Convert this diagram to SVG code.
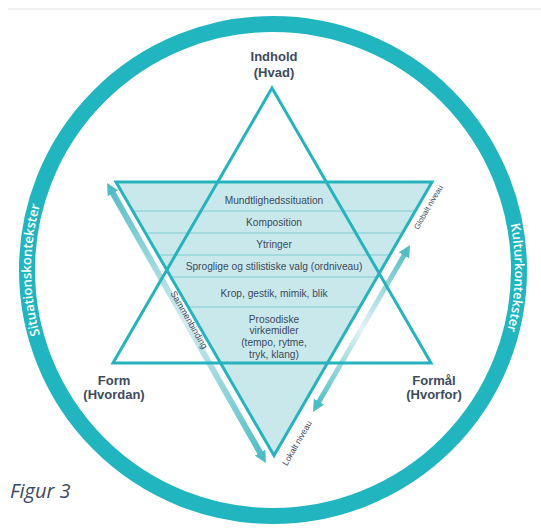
<svg xmlns="http://www.w3.org/2000/svg" width="541" height="528" viewBox="0 0 541 528">
<defs>
<style>
.lvl{font-family:"Liberation Sans",Arial,sans-serif;font-size:10.2px;fill:#3b4a5d;text-anchor:middle}
.lab{font-family:"Liberation Sans",Arial,sans-serif;font-size:13px;font-weight:bold;fill:#3d4b5c;text-anchor:middle}
.ring{font-family:"Open Sans","Liberation Sans",sans-serif;font-size:13px;font-weight:600;fill:#ffffff;text-anchor:middle}
.arr{font-family:"Liberation Sans",Arial,sans-serif;fill:#3b4a5d;text-anchor:middle}
.div{stroke:#7fcbd1;stroke-width:1}
.tri{fill:none;stroke:#27b3bd;stroke-width:3;stroke-linejoin:miter}
</style>
<marker id="head" viewBox="0 0 12 12" markerWidth="12" markerHeight="12" refX="6" refY="6" orient="auto-start-reverse" markerUnits="userSpaceOnUse">
<path d="M0,0 L12,6 L0,12 z" fill="#4dbcc4"/>
</marker>
<linearGradient id="gL" gradientUnits="userSpaceOnUse" x1="110" y1="188" x2="263" y2="458">
<stop offset="0" stop-color="#55bec6"/>
<stop offset="0.5" stop-color="#d3ecef"/>
<stop offset="1" stop-color="#4dbcc4"/>
</linearGradient>
<linearGradient id="gR" gradientUnits="userSpaceOnUse" x1="407" y1="250" x2="316" y2="407">
<stop offset="0" stop-color="#55bec6"/>
<stop offset="0.5" stop-color="#e2f3f5"/>
<stop offset="1" stop-color="#4dbcc4"/>
</linearGradient>
<path id="arcL" d="M273,512 A242,242 0 0 1 273,28"/>
<path id="arcR" d="M273,28 A242,242 0 0 1 273,512"/>
</defs>
<rect width="541" height="528" fill="#ffffff"/>
<line x1="8" y1="9" x2="541" y2="9" stroke="#ececec" stroke-width="1.5"/>

<g id="ring">
<circle cx="273" cy="270" r="246" fill="none" stroke="#21b5c0" stroke-width="16"/>
<text class="ring"><textPath href="#arcL" startOffset="50%">Situationskontekster</textPath></text>
<text class="ring"><textPath href="#arcR" startOffset="51%">Kulturkontekster</textPath></text>
</g>

<g id="levels">
<polygon points="116,182 432,182 274,455.6" fill="#c9e8ec"/>
<line class="div" x1="132.7" y1="211" x2="415.3" y2="211"/>
<line class="div" x1="145.5" y1="233" x2="402.5" y2="233"/>
<line class="div" x1="158.2" y1="255" x2="389.8" y2="255"/>
<line class="div" x1="170.9" y1="277" x2="377.1" y2="277"/>
<line class="div" x1="188.2" y1="307" x2="359.8" y2="307"/>
<text class="lvl" x="274" y="203.5">Mundtlighedssituation</text>
<text class="lvl" x="274" y="226">Komposition</text>
<text class="lvl" x="274" y="247.5">Ytringer</text>
<text class="lvl" x="274" y="270">Sproglige og stilistiske valg (ordniveau)</text>
<text class="lvl" x="274" y="296.5">Krop, gestik, mimik, blik</text>
<text class="lvl" x="274" y="322.5">Prosodiske</text>
<text class="lvl" x="274" y="334">virkemidler</text>
<text class="lvl" x="274" y="345.5">(tempo, rytme,</text>
<text class="lvl" x="274" y="357.5">tryk, klang)</text>
</g>

<g id="connectors">
<line x1="110" y1="188.2" x2="263" y2="457.8" stroke="url(#gL)" stroke-width="6" marker-start="url(#head)" marker-end="url(#head)"/>
<line x1="407" y1="250.2" x2="316" y2="406.8" stroke="url(#gR)" stroke-width="5" marker-start="url(#head)" marker-end="url(#head)"/>
<text class="arr" font-size="9" transform="translate(189,320) rotate(60)" y="3">Sammenbinding</text>
<text class="arr" font-size="7.8" transform="translate(428,207) rotate(-60)" y="3">Globalt niveau</text>
<text class="arr" font-size="8.5" transform="translate(297,443) rotate(-60)" y="3">Lokalt niveau</text>
</g>

<g id="triangle-up">
<polygon class="tri" points="272,88 431,363 113,363"/>
</g>
<g id="triangle-down">
<polygon class="tri" points="116,182 432,182 274,455.6"/>
</g>

<g id="indhold">
<text class="lab" x="274" y="61">Indhold</text>
<text class="lab" x="274" y="77">(Hvad)</text>
</g>
<g id="form">
<text class="lab" x="114" y="385">Form</text>
<text class="lab" x="114" y="399">(Hvordan)</text>
</g>
<g id="formaal">
<text class="lab" x="434" y="385">Formål</text>
<text class="lab" x="434" y="399">(Hvorfor)</text>
</g>

<text x="10" y="498" font-family="'Open Sans','Liberation Sans',sans-serif" font-style="italic" font-size="20" fill="#3b4a63">Figur 3</text>
</svg>
